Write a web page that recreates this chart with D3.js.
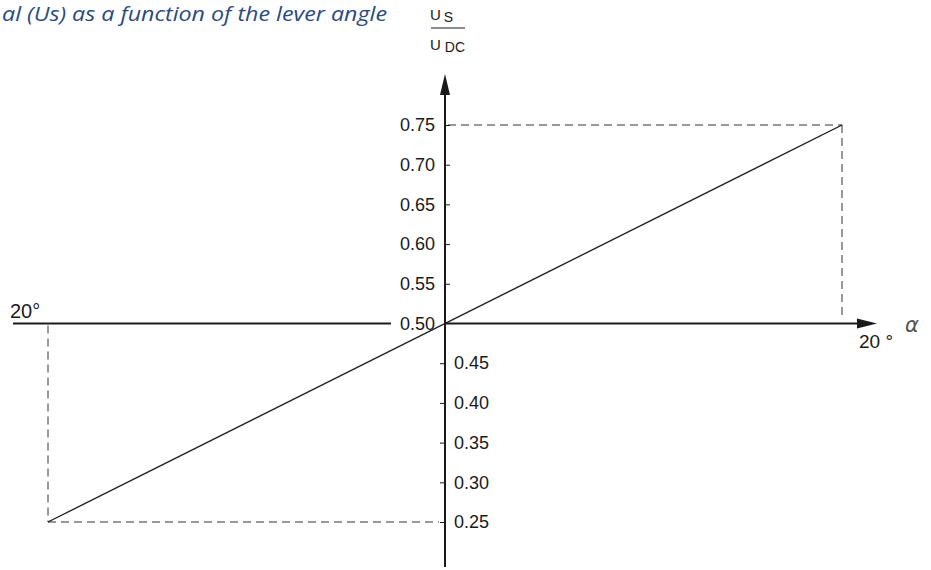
<!DOCTYPE html>
<html>
<head>
<meta charset="utf-8">
<script src="https://cdn.jsdelivr.net/npm/d3@7"></script>
<style>
  body { margin: 0; background: #fff; }
  svg { display: block; }
</style>
</head>
<body>
<svg></svg>
<script>
// chart data
let angles = [-20, 20];          // lever angle in degrees
let ratios = [0.25, 0.75];       // Us / UDC
let upperTicks = [0.55, 0.60, 0.65, 0.70, 0.75];
let lowerTicks = [0.25, 0.30, 0.35, 0.40, 0.45];
let titleText = 'al (Us) as a function of the lever angle';

let width = 931;
let height = 570;

let svg = d3.select('svg')
    .attr('width', width)
    .attr('height', height);

// scales: angle -> x, ratio -> y
let xScale = d3.scaleLinear().domain([-20, 20]).range([48, 842]);
let yScale = d3.scaleLinear().domain([0.25, 0.75]).range([522, 125]);

let x0 = xScale(0);
let y0 = yScale(0.5);
let ink = '#1a1a1a';
let labelFont = '"Liberation Sans", Arial, sans-serif';

// title (the page cuts its start off)
svg.append('text')
    .attr('x', 2)
    .attr('y', 21)
    .attr('textLength', 385)
    .attr('lengthAdjust', 'spacingAndGlyphs')
    .attr('font-family', '"Open Sans", sans-serif')
    .attr('font-style', 'italic')
    .attr('font-size', 20)
    .attr('fill', '#2b4a7e')
    .text(titleText);

// dashed guide lines
let points = angles.map(function(a, i) { return [xScale(a), yScale(ratios[i])]; });
let guides = svg.append('g')
    .attr('stroke', '#333')
    .attr('stroke-width', 1)
    .attr('stroke-dasharray', '8,5')
    .attr('fill', 'none');
guides.append('line')
    .attr('x1', x0 + 3).attr('y1', points[1][1])
    .attr('x2', points[1][0]).attr('y2', points[1][1]);
guides.append('line')
    .attr('x1', points[1][0]).attr('y1', points[1][1])
    .attr('x2', points[1][0]).attr('y2', y0 - 5);
guides.append('line')
    .attr('x1', points[0][0]).attr('y1', y0 + 2)
    .attr('x2', points[0][0]).attr('y2', points[0][1]);
guides.append('line')
    .attr('x1', points[0][0]).attr('y1', points[0][1])
    .attr('x2', x0 - 6).attr('y2', points[0][1]);

// the characteristic line
svg.append('path')
    .datum(angles.map(function(a, i) { return { a: a, r: ratios[i] }; }))
    .attr('d', d3.line()
        .x(function(d) { return xScale(d.a); })
        .y(function(d) { return yScale(d.r); }))
    .attr('stroke', ink)
    .attr('stroke-width', 1.3)
    .attr('fill', 'none');

// horizontal axis (with a gap for the 0.50 label)
svg.append('line')
    .attr('x1', 13).attr('y1', y0).attr('x2', 391).attr('y2', y0)
    .attr('stroke', ink).attr('stroke-width', 2);
svg.append('line')
    .attr('x1', x0).attr('y1', y0).attr('x2', 862).attr('y2', y0)
    .attr('stroke', ink).attr('stroke-width', 2);
svg.append('path')
    .attr('d', `M${877},${y0} L${857},${y0 - 5} L${857},${y0 + 5} Z`)
    .attr('fill', ink);

// vertical axis
svg.append('line')
    .attr('x1', x0).attr('y1', 90).attr('x2', x0).attr('y2', 567)
    .attr('stroke', ink).attr('stroke-width', 2);
svg.append('path')
    .attr('d', `M${x0},${74} L${x0 - 5},${95} L${x0 + 5},${95} Z`)
    .attr('fill', ink);

// upper ticks: labels on the left, ticks to the right
let upperAxis = d3.axisLeft(yScale)
    .tickValues(upperTicks)
    .tickFormat(d3.format('.2f'))
    .tickSize(0)
    .tickPadding(10);
let gUp = svg.append('g')
    .attr('transform', `translate(${x0},0)`)
    .call(upperAxis);
gUp.select('.domain').remove();
gUp.selectAll('.tick').append('line')
    .attr('x1', 0).attr('x2', 5)
    .attr('stroke', ink);

// lower ticks: labels on the right, ticks to the left
let lowerAxis = d3.axisRight(yScale)
    .tickValues(lowerTicks)
    .tickFormat(d3.format('.2f'))
    .tickSize(0)
    .tickPadding(9);
let gLow = svg.append('g')
    .attr('transform', `translate(${x0},0)`)
    .call(lowerAxis);
gLow.select('.domain').remove();
gLow.selectAll('.tick').append('line')
    .attr('x1', -5).attr('x2', 0)
    .attr('stroke', ink);

svg.selectAll('.tick text')
    .attr('font-family', labelFont)
    .attr('font-size', 18)
    .attr('fill', ink);

// 0.50 label at the origin
svg.append('text')
    .attr('x', 435)
    .attr('y', y0)
    .attr('dy', '0.35em')
    .attr('text-anchor', 'end')
    .attr('font-family', labelFont)
    .attr('font-size', 18)
    .attr('fill', ink)
    .text(d3.format('.2f')(0.5));

// angle labels
svg.append('text')
    .attr('x', 10).attr('y', 318)
    .attr('font-family', labelFont).attr('font-size', 20).attr('fill', ink)
    .text('20°');
svg.append('text')
    .attr('x', 859).attr('y', 348)
    .attr('font-family', labelFont).attr('font-size', 19).attr('fill', ink)
    .text('20 °');
svg.append('text')
    .attr('x', 905).attr('y', 332)
    .attr('font-family', '"DejaVu Sans", sans-serif')
    .attr('font-style', 'italic')
    .attr('font-size', 21).attr('fill', '#555')
    .text('α');

// Us / UDC axis title
let frac = svg.append('g')
    .attr('font-family', labelFont)
    .attr('fill', ink);
frac.append('text')
    .attr('x', 430).attr('y', 20).attr('font-size', 15)
    .text('U')
    .append('tspan').attr('dx', 3).attr('dy', 2).attr('font-size', 14).text('S');
frac.append('line')
    .attr('x1', 431).attr('x2', 465).attr('y1', 28).attr('y2', 28)
    .attr('stroke', ink).attr('stroke-width', 1);
frac.append('text')
    .attr('x', 430).attr('y', 50).attr('font-size', 15)
    .text('U')
    .append('tspan').attr('dx', 4).attr('dy', 2).attr('font-size', 14).text('DC');
</script>
</body>
</html>
